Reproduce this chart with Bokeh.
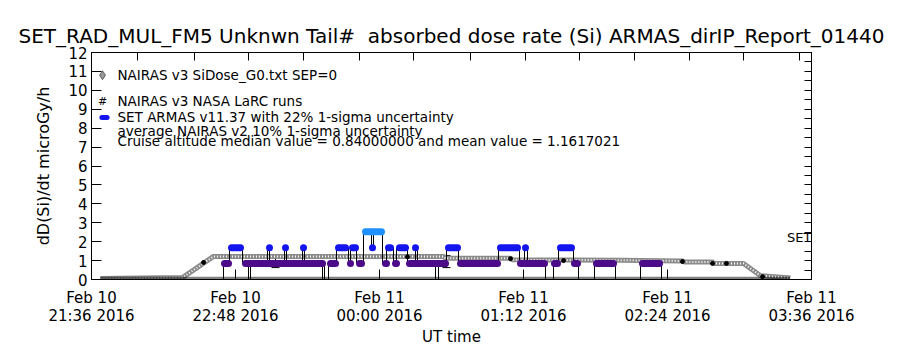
from datetime import datetime, timedelta
from bokeh.plotting import figure
from bokeh.models import (FixedTicker, LinearAxis, DatetimeAxis, Range1d,
                          ColumnDataSource, Whisker, TeeHead, CustomJSTickFormatter)
from bokeh.core.properties import value
from bokeh.embed import file_html
from bokeh.resources import INLINE

# ---------------- data (minutes after 2016-02-10 21:36 UT) ----------------
title_text = "SET_RAD_MUL_FM5 Unknwn Tail#\u00a0 absorbed dose rate (Si) ARMAS_dirIP_Report_01440"
tick_minutes = [0, 72, 144, 216, 288, 360]
tick_labels = ["Feb 10\n21:36 2016", "Feb 10\n22:48 2016", "Feb 11\n00:00 2016",
               "Feb 11\n01:12 2016", "Feb 11\n02:24 2016", "Feb 11\n03:36 2016"]
top_tick_minutes = [23, 51.5, 78.5, 106, 134, 161, 189.5, 217, 244, 271.5, 299, 326, 354]

# NAIRAS v3 SiDose_G0 profile
nairas_min = [4.5, 45.5, 61, 176, 177, 209.5, 210.5, 264.5, 295.5, 296.5, 310.5, 311.5, 326, 334.5, 349.5]
nairas_val = [0.05, 0.1, 1.22, 1.22, 1.12, 1.12, 1.04, 1.02, 0.98, 0.92, 0.92, 0.85, 0.85, 0.2, 0.08]

# NAIRAS v3 NASA LaRC runs
larc_min = [56, 158, 209.5, 236, 295.5, 310.5, 317.5, 335.5]
larc_val = [0.9, 1.2, 1.1, 1.0, 0.95, 0.85, 0.85, 0.15]

# SET ARMAS quantised readings: runs of equal value
run_start = [66.5, 77, 119.5, 129.5, 134, 147, 152, 159, 184.5, 214.5, 231.5, 241.5, 252.5, 275.5,
             70, 89, 97, 106, 123.5, 130.5, 148.5, 154, 162, 178.5, 204.5, 217, 234.5, 140.5,
             137]
run_end = [68.5, 115.5, 122, 129.5, 135, 147.5, 152.5, 177, 203, 226.5, 233, 243, 261, 284,
           74.5, 89, 97, 106, 127, 132, 149.5, 157, 162, 183, 213, 217, 240, 140.5,
           145]
run_level = [0.84] * 14 + [1.68] * 14 + [2.52]

# jumps between readings
jump_min = [66, 69, 75.5, 78.5, 79.5, 88, 89, 96.5, 97.5, 105.5, 106.5, 115.5, 116.5, 118.5,
            122.5, 128.5, 129.5, 132.5, 136, 140, 141, 145.5, 147.5, 151, 152.5, 158, 162, 163,
            172, 173.5, 177.5, 183.5, 203.5, 214, 216.5, 218, 227, 231, 233.5, 241, 243.5,
            251.5, 262, 274.5, 285]
jump_top = [0.84, 1.68, 1.68, 0.84, 0.84, 1.68, 1.68, 1.68, 1.68, 1.68, 1.68, 0.84, 0.84, 0.84,
            1.68, 1.68, 1.68, 1.68, 2.52, 2.52, 2.52, 2.52, 1.68, 1.68, 1.68, 1.68, 1.68, 1.68,
            0.84, 0.84, 1.68, 1.68, 1.68, 1.68, 1.68, 1.68, 0.84, 0.84, 1.68, 1.68, 0.84,
            0.84, 0.84, 0.84, 0.84]
jump_bot = [0.0, 0.84, 0.84, 0.0, 0.0, 0.84, 0.84, 0.84, 0.84, 0.84, 0.84, 0.0, 0.0, 0.0,
            0.84, 0.84, 0.84, 0.84, 0.84, 1.68, 1.68, 0.84, 0.84, 0.84, 0.84, 0.84, 0.84, 0.84,
            0.0, 0.0, 0.84, 0.84, 0.84, 0.84, 0.84, 0.84, 0.0, 0.0, 0.84, 0.84, 0.0,
            0.0, 0.0, 0.0, 0.0]
zero_start, zero_end = [4.5], [349.5]

# average NAIRAS uncertainty bars
err_min = [92, 177.5]
err_val = [0.95, 0.95]
err_sig = [0.32, 0.32]

legend_lines = ["NAIRAS v3 SiDose_G0.txt SEP=0", "NAIRAS v3 NASA LaRC runs",
                "SET ARMAS v11.37 with 22% 1-sigma uncertainty",
                "average NAIRAS v2 10% 1-sigma uncertainty",
                "Cruise altitude median value = 0.84000000 and mean value = 1.1617021"]

# ---------------- helpers ----------------
T0 = datetime(2016, 2, 10, 21, 36)
EPOCH = datetime(1970, 1, 1)
def ut(mins):
    return [T0 + timedelta(minutes=m) for m in mins]
def ms(mins):
    return [(t - EPOCH).total_seconds() * 1000.0 for t in ut(mins)]

level_color = {0.84: "#4c0c8a", 1.68: "#1414ee", 2.52: "#1e90ff"}
FONT = "DejaVu Sans"

p = figure(width=900, height=350, x_axis_type="datetime",
           x_range=Range1d(ut([0])[0], ut([360])[0]), y_range=Range1d(0, 12),
           output_backend="svg", toolbar_location=None,
           min_border_left=91, min_border_right=89, min_border_top=52, min_border_bottom=71)
p.background_fill_color = "white"
p.border_fill_color = "white"
p.outline_line_color = "black"
p.grid.visible = False

p.title.text = title_text
p.title.align = "center"
p.title.text_font = FONT
p.title.text_font_size = "20px"
p.title.text_font_style = "normal"
p.title.text_color = "black"

# axes
xa = p.xaxis[0]
xa.ticker = FixedTicker(ticks=ms(tick_minutes))
xa.major_label_overrides = {v: lab for v, lab in zip(ms(tick_minutes), tick_labels)}
xa.major_tick_in = 10
xa.major_tick_out = 0
xa.minor_tick_line_color = None
xa.major_label_text_font = FONT
xa.major_label_text_font_size = "15px"
xa.major_label_text_line_height = 1.05
xa.major_label_standoff = 9
xa.axis_label = "UT time"
xa.axis_label_text_font = FONT
xa.axis_label_text_font_size = "15px"
xa.axis_label_text_font_style = "normal"
xa.axis_label_standoff = 0

ya = p.yaxis[0]
ya.ticker = FixedTicker(ticks=list(range(13)))
ya.major_tick_in = 10
ya.major_tick_out = 0
ya.minor_tick_line_color = None
ya.major_label_text_font = FONT
ya.major_label_text_font_size = "15px"
ya.major_label_standoff = 4
ya.axis_label = "dD(Si)/dt microGy/h"
ya.axis_label_text_font = FONT
ya.axis_label_text_font_size = "16px"
ya.axis_label_text_font_style = "normal"
ya.axis_label_standoff = 12

for ax in (xa, ya):
    ax.axis_line_color = "black"
    ax.major_tick_line_color = "black"
    ax.major_label_text_color = "black"
    ax.axis_label_text_color = "black"

blank = CustomJSTickFormatter(code="return ''")
top = DatetimeAxis(ticker=FixedTicker(ticks=ms(top_tick_minutes)), major_tick_in=8,
                   major_tick_out=0, minor_tick_line_color=None, formatter=blank,
                   major_label_standoff=0, axis_line_color="black")
p.add_layout(top, "above")
right = LinearAxis(ticker=FixedTicker(ticks=[i * 0.5 for i in range(25)]), major_tick_in=7,
                   major_tick_out=0, minor_tick_line_color=None, formatter=blank,
                   major_label_standoff=0, axis_line_color="black")
p.add_layout(right, "right")

# NAIRAS profile (checkered grey band)
p.line(ut(nairas_min), nairas_val, line_color="#8a8a8a", line_width=5)
p.line(ut(nairas_min), nairas_val, line_color="white", line_width=2, line_dash="1 2")

# ARMAS zero readings
p.segment(ut(zero_start), [0.06], ut(zero_end), [0.06], line_color="black", line_width=3,
          line_dash="1 1")

# jumps
p.segment(ut(jump_min), jump_top, ut(jump_min), jump_bot, line_color="black", line_width=1)

# ARMAS runs
src = ColumnDataSource(dict(x0=ut(run_start), x1=ut(run_end), y=run_level,
                            c=[level_color[v] for v in run_level]))
p.segment("x0", "y", "x1", "y", source=src, line_color="c", line_width=7, line_cap="round")

# LaRC runs
p.scatter(ut(larc_min), larc_val, marker="circle", size=4, color="black")

# uncertainty bars
esrc = ColumnDataSource(dict(x=ut(err_min), up=[v + s for v, s in zip(err_val, err_sig)],
                             lo=[v - s for v, s in zip(err_val, err_sig)]))
p.add_layout(Whisker(source=esrc, base="x", upper="up", lower="lo", dimension="height",
                     line_color="black", line_width=1,
                     upper_head=TeeHead(size=8, line_color="black"),
                     lower_head=TeeHead(size=8, line_color="black")))

# legend (drawn in the IDL style)
p.scatter(ut([5.5]), [10.8], marker="diamond", size=9, fill_color="#999999", line_color="black",
          line_width=0.5)
p.text(ut([5.5]), [9.42], text=["#"], text_font=value(FONT), text_font_size="11px",
       text_align="center", text_baseline="middle", text_color="black")
p.segment(ut([5.2]), [8.57], ut([7.8]), [8.57], line_color="#1414ee", line_width=5, line_cap="round")
p.text(ut([13, 13, 13, 13, 13]), [10.8, 9.42, 8.57, 7.83, 7.30], text=legend_lines,
       text_font=value(FONT), text_font_size="13.5px", text_baseline="middle", text_color="black")
p.text(ut([360]), [2.22], text=["SET"], text_font=value(FONT), text_font_size="13px",
       text_align="right", text_baseline="middle", text_color="black")

open("out.html", "w").write(file_html(p, INLINE))
